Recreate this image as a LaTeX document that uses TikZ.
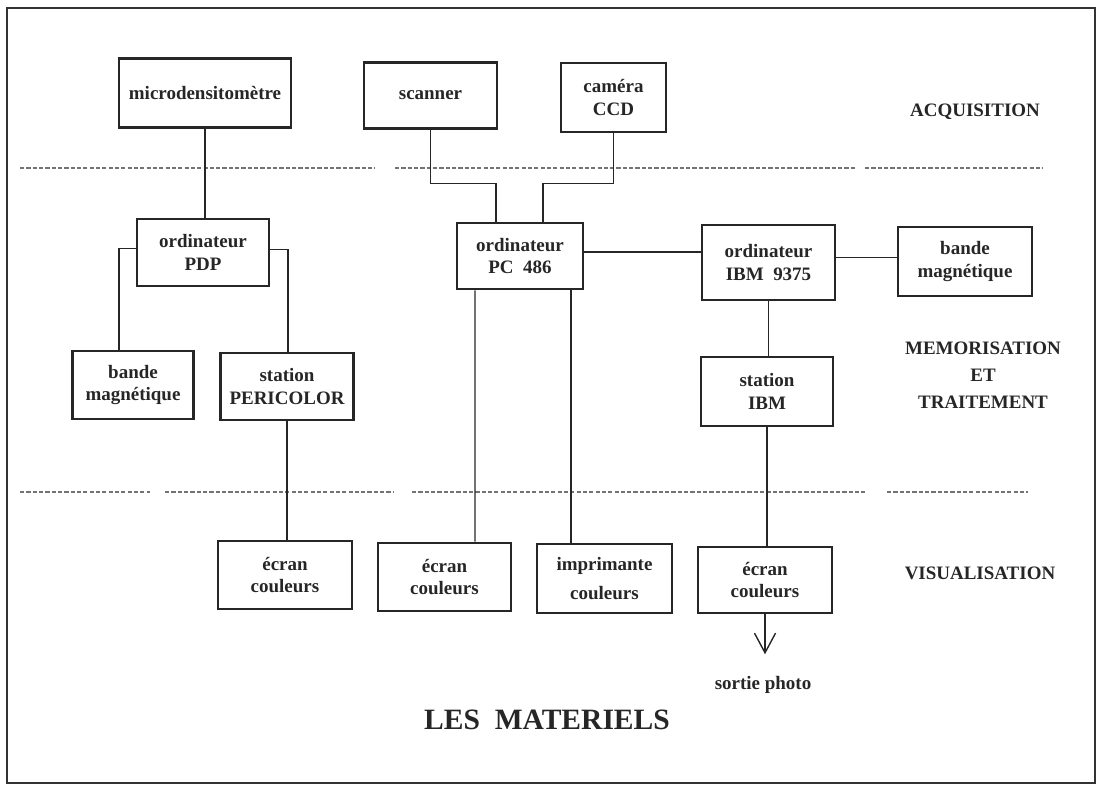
\documentclass[tikz,border=0pt]{standalone}
\usepackage{fontspec}
\setmainfont{Liberation Serif}
\usetikzlibrary{arrows.meta,calc}
\begin{document}
\begin{tikzpicture}[x=0.025cm,y=-0.025cm,
  box/.style={draw=black!85, line width=1.8pt, inner sep=0pt, align=center,
    font=\fontsize{13.5}{16}\selectfont\bfseries, text=black!85},
  sz/.style 2 args={minimum width=#1*0.025cm, minimum height=#2*0.025cm},
  wire/.style={draw=black!85, line width=1pt},
  sep/.style={draw=black!55, line width=0.8pt, dash pattern=on 3pt off 1.5pt},
  lab/.style={font=\fontsize{13.5}{19}\selectfont\bfseries, text=black!85, align=center}]
\useasboundingbox (0,0) rectangle (1103,794);
% frame
\draw[draw=black!80, line width=1.2pt] (7,8) rectangle (1095,783);
% separators
\draw[sep] (20,168) -- (375,168);
\draw[sep] (395,168) -- (855,168);
\draw[sep] (865,168) -- (1043,168);
\draw[sep] (20,492) -- (150,492);
\draw[sep] (165,492) -- (394,492);
\draw[sep] (412,492) -- (865,492);
\draw[sep] (887,492) -- (1028,492);
% boxes
\node[box, sz={172}{69}] (micro) at (205,93) {microdensitomètre};
\node[box, sz={133}{66}] (scanner) at (430.5,95.5) {scanner};
\node[box, sz={105}{69}] (cam) at (613.5,97.5) {caméra\\CCD};
\node[box, sz={132}{67}] (pdp) at (203,252.5) {ordinateur\\PDP};
\node[box, sz={126}{66}] (pc) at (520,256) {ordinateur\\PC~~486};
\node[box, sz={133}{75}] (ibm) at (768.5,262.5) {ordinateur\\IBM~~9375};
\node[box, sz={134}{69}] (bandeR) at (965,261.5) {bande\\magnétique};
\node[box, sz={121}{68}] (bandeL) at (133,385) {bande\\magnétique};
\node[box, sz={133}{67}] (peri) at (287,386.5) {station\\PERICOLOR};
\node[box, sz={132}{69}] (stibm) at (767,391.5) {station\\IBM};
\node[box, sz={134}{68}] (ecranL) at (285,575) {écran\\couleurs};
\node[box, sz={133}{68}] (ecranM) at (444.5,577) {écran\\couleurs};
\node[box, sz={135}{69}] (impr) at (604.5,578.5) {imprimante\\[4pt]couleurs};
\node[box, sz={134}{66}] (ecranR) at (765,580) {écran\\couleurs};
% connectors
\draw[wire] (micro.south) -- (micro.south |- pdp.north);
\draw[wire] (scanner.south) |- ($(pc.north)+(-24,-38)$) -- ($(pc.north)+(-24,0)$);
\draw[wire] (cam.south) |- ($(pc.north)+(23,-38)$) -- ($(pc.north)+(23,0)$);
\draw[wire] ($(pdp.west)+(0,-4)$) -| ($(bandeL.north)+(-14,0)$);
\draw[wire] ($(pdp.east)+(0,-3)$) -| ($(peri.north)+(1,0)$);
\draw[wire] (peri.south) -- (peri.south |- ecranL.north);
\draw[wire] ($(pc.south)+(-45,0)$) -- ($(ecranM.north)+(30.5,0)$);
\draw[wire] ($(pc.south)+(51,0)$) -- ($(impr.north)+(-33.5,0)$);
\draw[wire] ($(pc.east)+(0,-4)$) -- ($(ibm.west)+(0,-10.5)$);
\draw[wire] ($(ibm.east)+(0,-5)$) -- ($(bandeR.west)+(0,-4)$);
\draw[wire] (ibm.south) -- (ibm.south |- stibm.north);
\draw[wire] (stibm.south) -- (stibm.south |- ecranR.north);
\coordinate (photoend) at ($(ecranR.south)+(0,40)$);
\draw[wire, -{Straight Barb[length=14pt,width=15pt]}] (ecranR.south) -- (photoend);
% labels
\node[lab] (sortie) at (763,685) {sortie photo};
\node[lab] (acq) at (975,112) {ACQUISITION};
\node[lab] (mem) at (983,375) {MEMORISATION\\ET\\TRAITEMENT};
\node[lab] (visu) at (980,573) {VISUALISATION};
\node[font=\fontsize{21}{24}\selectfont\bfseries, text=black!85] (title) at (547,720) {LES~~MATERIELS};
\end{tikzpicture}
\end{document}
